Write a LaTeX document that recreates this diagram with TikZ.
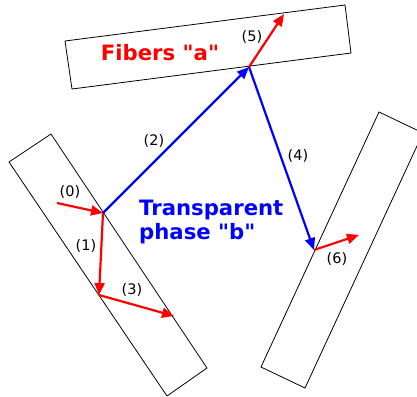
\documentclass[tikz,border=0pt]{standalone}
\usepackage{fontspec}
\setmainfont{DejaVu Sans}[Ligatures=TeXOff]
\usetikzlibrary{arrows.meta}

\begin{document}
\begin{tikzpicture}[
    x=1pt, y=-1pt,
    >={Triangle[length=12pt, width=10pt]},
    fiber/.style={draw, line width=0.8pt},
    ray/.style={->, line width=2.2pt},
    lbl/.style={font=\fontsize{14.5}{17}\selectfont, inner sep=0pt},
    title/.style={font=\fontsize{21.2}{25}\selectfont\bfseries, inner sep=0pt}
]
\useasboundingbox (0,0) rectangle (417,396);
\clip (0,0) rectangle (417,396);

\draw[fiber] (9,162) -- (51,134) -- (207,368) -- (167,396) -- cycle;
\draw[fiber] (65,41) -- (345,5) -- (351,53) -- (72,89) -- cycle;
\draw[fiber] (379,112) -- (423,133) -- (305,388) -- (261,367) -- cycle;

\coordinate (in) at (57,203);
\coordinate (p0) at (103,213);
\coordinate (p1) at (99,295);
\coordinate (p3) at (174,316);
\coordinate (top) at (249,67);
\coordinate (p5) at (284,14);
\coordinate (right) at (314,250);
\coordinate (p6) at (359,235);

\draw[ray, red] (in) -- (p0);
\draw[ray, red] (p0) -- (p1);
\draw[ray, red] (p1) -- (p3);
\draw[ray, blue] (p0) -- (top);
\draw[ray, red] (top) -- (p5);
\draw[ray, blue] (top) -- (right);
\draw[ray, red] (right) -- (p6);

\node[lbl] (l0) at (70,192) {(0)};
\node[lbl] (l1) at (86,246) {(1)};
\node[lbl] (l2) at (154,141) {(2)};
\node[lbl] (l3) at (132,290) {(3)};
\node[lbl] (l4) at (298,156) {(4)};
\node[lbl] (l5) at (252,37) {(5)};
\node[lbl] (l6) at (337,259) {(6)};

\node[title, red] (fibers) at (160,53) {Fibers "a"};
\node[title, blue, align=left, anchor=north west] (phase) at (139,200) {Transparent\\[-1pt]phase "b"};
\end{tikzpicture}
\end{document}
